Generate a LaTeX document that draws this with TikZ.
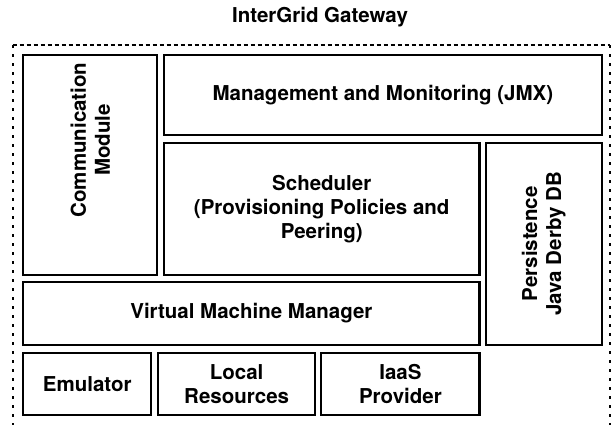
\documentclass[tikz,border=0pt]{standalone}
\usepackage{fontspec}
\setmainfont{TeX Gyre Heros}

\newcommand{\block}[6]{
  \pgfmathsetmacro{\bw}{#4-#2}
  \pgfmathsetmacro{\bh}{#5-#3}

  % box from corner (#2,#3) to corner (#4,#5)
  \node[blk, minimum width=\bw pt, minimum height=\bh pt]
    (#1) at ({0.5*#2+0.5*#4},{0.5*#3+0.5*#5}) {#6};
}

\tikzset{
  lbl/.style={align=center, font=\bfseries\fontsize{20.5}{24}\selectfont},
  blk/.style={lbl, draw, line width=2.2pt, inner sep=0pt},
  vlbl/.style={lbl, rotate=90},
  gwtop/.style={line width=2pt, dash pattern=on 4pt off 3pt},
  gwside/.style={line width=2.2pt, dash pattern=on 3pt off 6pt}
}

\begin{document}
\begin{tikzpicture}[x=1pt, y=-1pt]
\useasboundingbox (0,0) rectangle (611,425);

% title and gateway border
\node[lbl, anchor=base] (title) at (320,23) {InterGrid Gateway};
\coordinate (gwtl) at (12.7,45.3);
\coordinate (gwtr) at (610.3,45.3);
\draw[gwtop] (gwtl) -- (gwtr);
\draw[gwside] (gwtl) -- (12.7,425);
\draw[gwside] (gwtr) -- (610.3,425);

% plain blocks
\foreach \n/\xa/\ya/\xb/\yb/\t in {
    mgmt/164/55/601.7/135/{Management and Monitoring (JMX)},
    sched/164/142.7/479.5/275/{Scheduler\\(Provisioning Policies and\\Peering)},
    vmm/23.3/282/479.5/344.8/{Virtual Machine Manager},
    emu/23.3/353/151.3/415.3/{Emulator},
    local/158/353/315.3/415.3/{Local\\Resources},
    iaas/321.3/353/479.5/415.3/{IaaS\\Provider}}
  {
    \block{\n}{\xa}{\ya}{\xb}{\yb}{\t}
  }

% blocks with upright text
\block{comm}{23.3}{55}{157.3}{275}{}
\node[vlbl] (commtxt) at (90.3,140) {Communication\\Module};

\block{persist}{486}{142.7}{601.7}{345}{}
\node[vlbl] (persisttxt) at (persist.center) {Persistence\\Java Derby DB};

\end{tikzpicture}
\end{document}
